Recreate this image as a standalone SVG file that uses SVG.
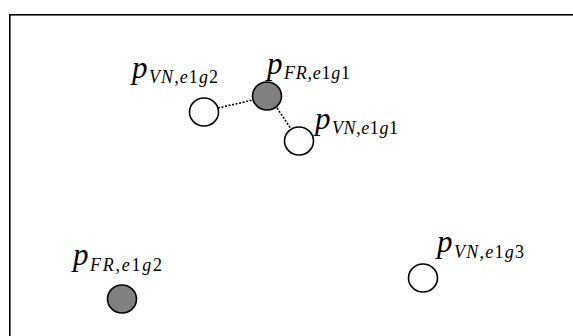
<svg xmlns="http://www.w3.org/2000/svg" width="573" height="336" viewBox="0 0 573 336">
<style>
.frame{fill:none;stroke:#000;stroke-width:1.6}
.vn{fill:#fff;stroke:#000;stroke-width:1.6}
.fr{fill:#808080;stroke:#000;stroke-width:1.6}
.link{stroke:#000;stroke-width:1.6;stroke-dasharray:2 1.6;fill:none}
text{font-family:'Liberation Serif','Times New Roman','DejaVu Serif',serif;font-style:italic;fill:#000}
.p{font-size:31px}
.s{font-size:18px}
.u{font-style:normal}
</style>
<rect class="frame" x="9.8" y="14.8" width="580" height="340"/>
<g id="connectors">
<line class="link" x1="218" y1="108" x2="253" y2="100"/>
<line class="link" x1="277" y1="108" x2="291" y2="129"/>
</g>
<g id="vn_e1g2">
<ellipse class="vn" cx="204" cy="112" rx="14.5" ry="14"/>
<text x="132" y="78" class="p">p</text>
<text x="149" y="83" class="s" textLength="69" lengthAdjust="spacing">VN,e<tspan class="u">1</tspan>g<tspan class="u">2</tspan></text>
</g>
<g id="fr_e1g1">
<ellipse class="fr" cx="267" cy="96" rx="14.5" ry="14"/>
<text x="267" y="74" class="p">p</text>
<text x="284" y="79" class="s" textLength="66" lengthAdjust="spacing">FR,e<tspan class="u">1</tspan>g<tspan class="u">1</tspan></text>
</g>
<g id="vn_e1g1">
<ellipse class="vn" cx="299" cy="141" rx="14.5" ry="14"/>
<text x="315" y="129" class="p">p</text>
<text x="332" y="134" class="s" textLength="66" lengthAdjust="spacing">VN,e<tspan class="u">1</tspan>g<tspan class="u">1</tspan></text>
</g>
<g id="fr_e1g2">
<ellipse class="fr" cx="122" cy="299" rx="14.5" ry="14"/>
<text x="73" y="265" class="p">p</text>
<text x="90" y="271" class="s" textLength="72" lengthAdjust="spacing">FR,e<tspan class="u">1</tspan>g<tspan class="u">2</tspan></text>
</g>
<g id="vn_e1g3">
<ellipse class="vn" cx="423" cy="278" rx="14.5" ry="14"/>
<text x="437" y="252" class="p">p</text>
<text x="454" y="258" class="s" textLength="70" lengthAdjust="spacing">VN,e<tspan class="u">1</tspan>g<tspan class="u">3</tspan></text>
</g>
</svg>
